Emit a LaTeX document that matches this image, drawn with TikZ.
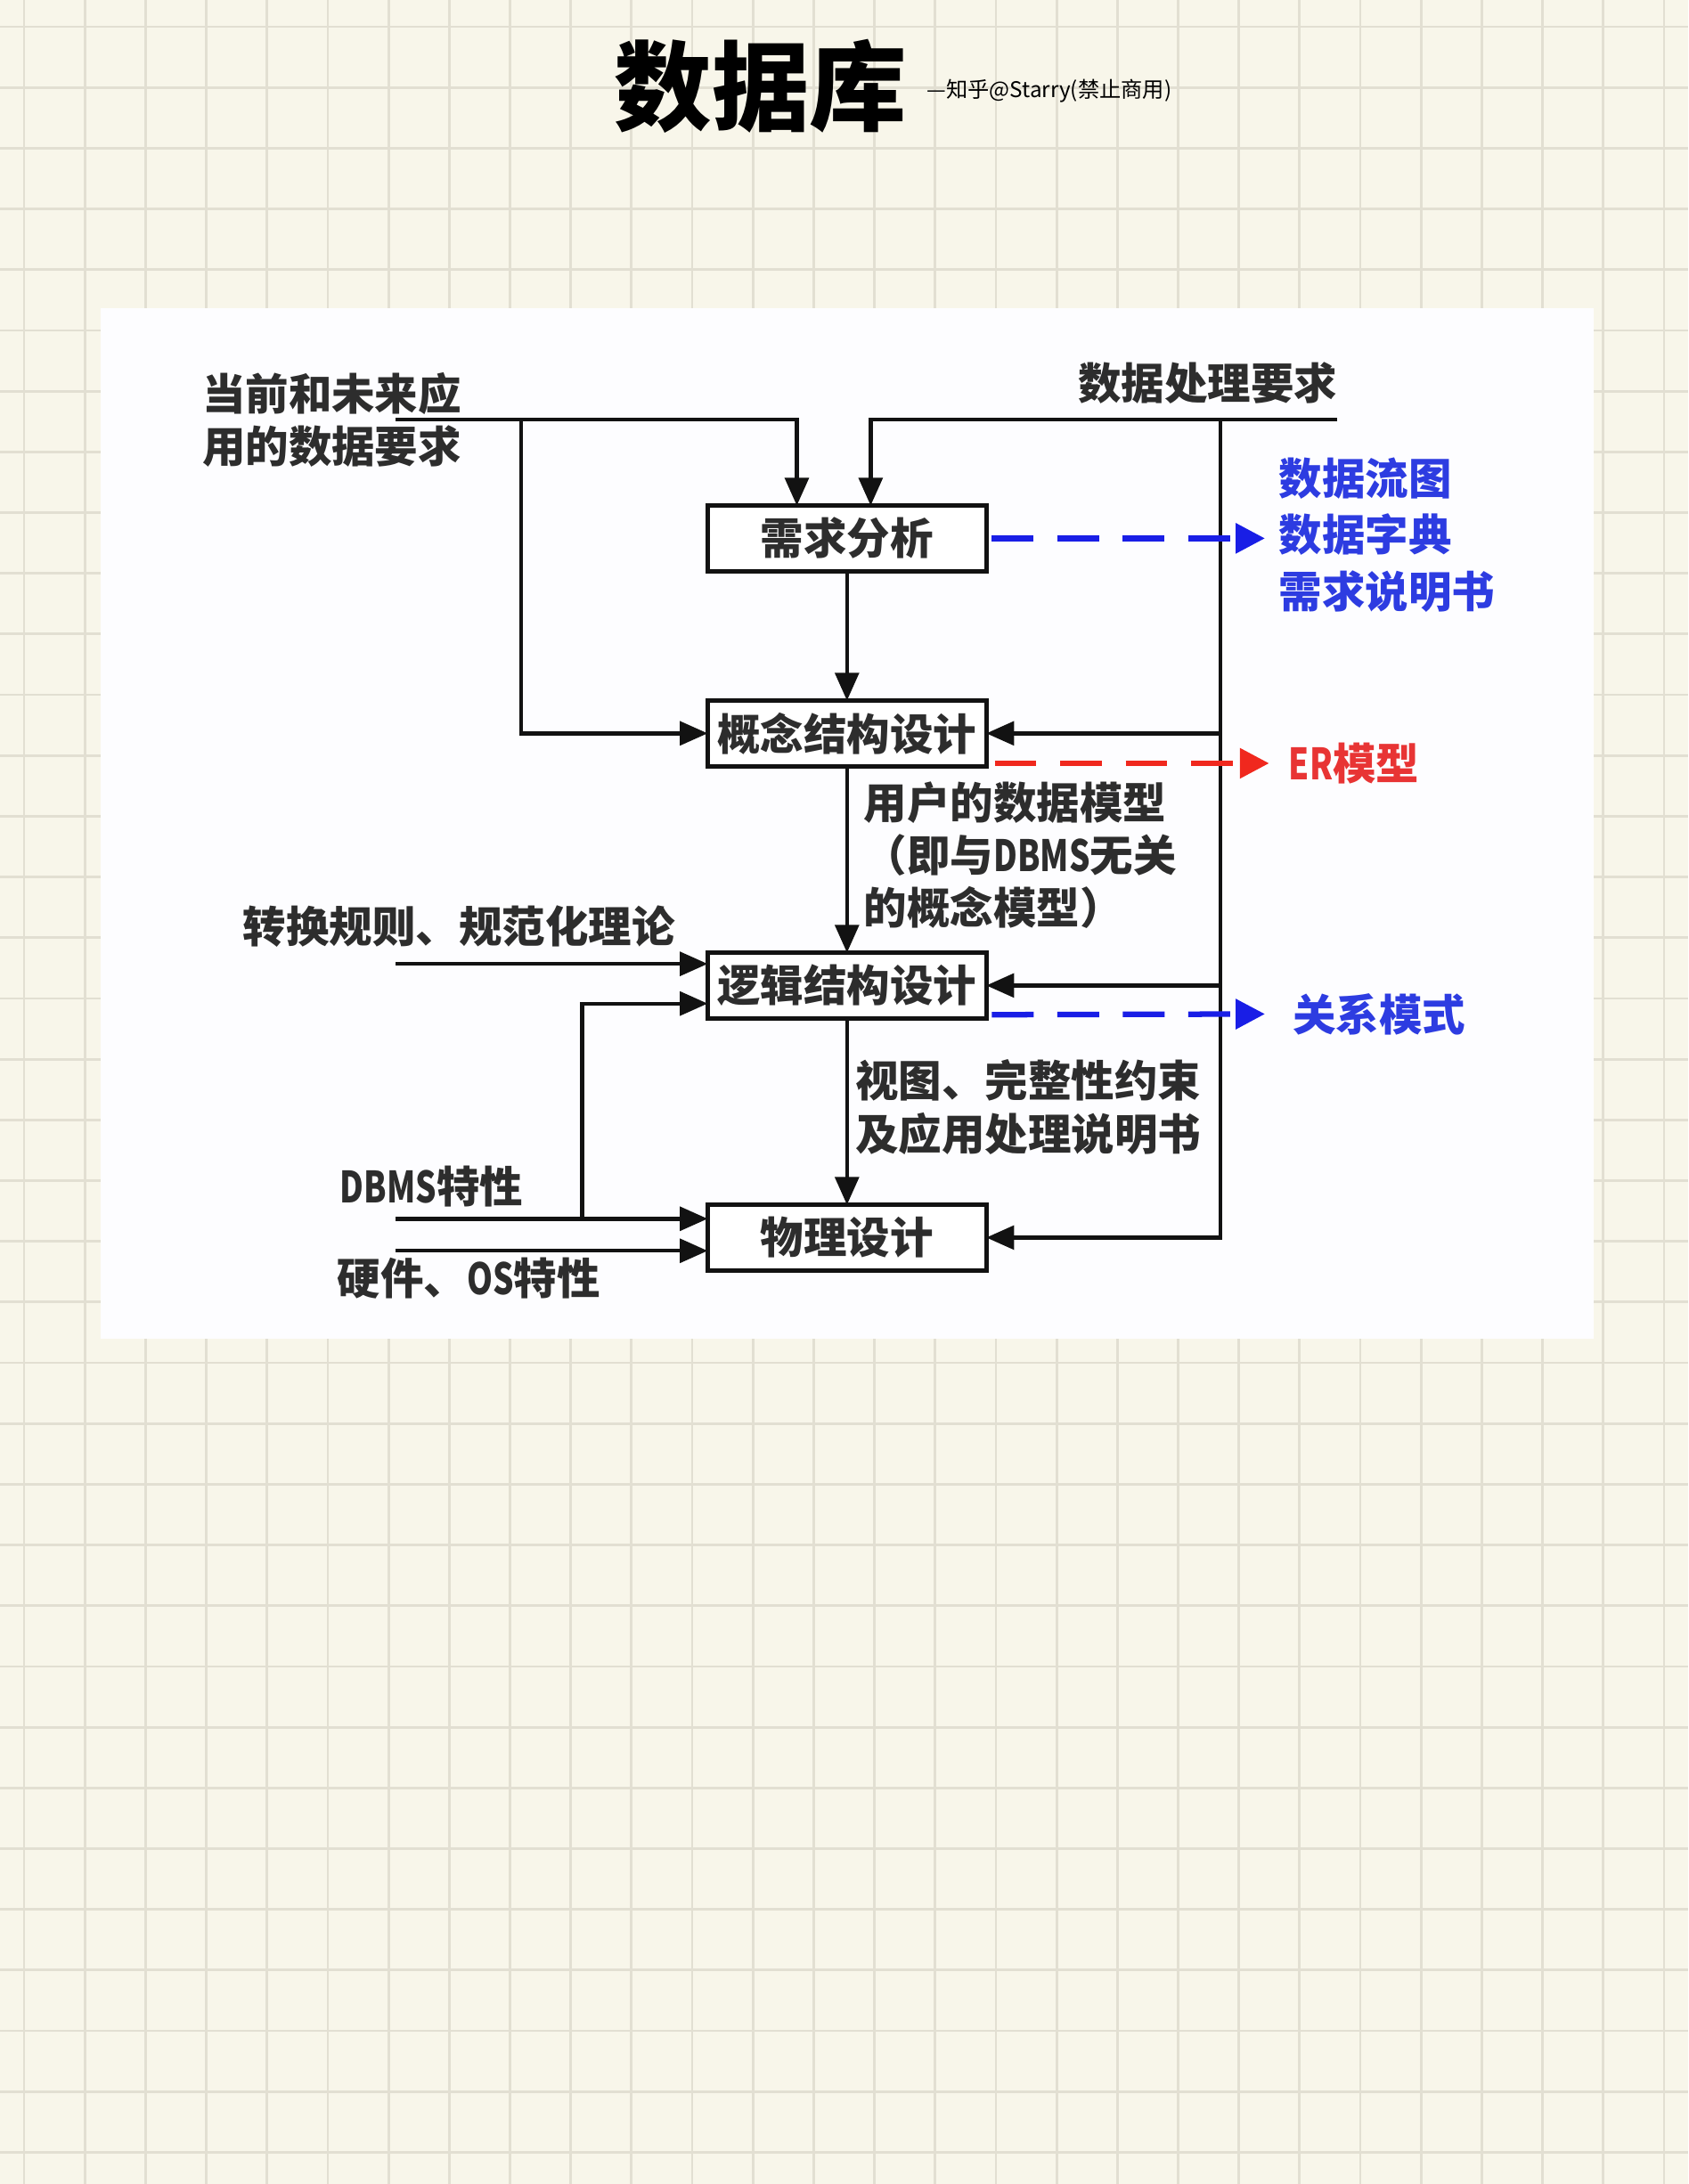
\documentclass[tikz,border=0pt]{standalone}
\usepackage{fontspec}
\usepackage{graphicx}
\usepackage{tikz}
\usetikzlibrary{arrows.meta, positioning, calc}
\newfontfamily\cjk{Noto Sans CJK SC}
\definecolor{paperCream}{RGB}{248,246,234}
\definecolor{gridGray}{RGB}{226,223,210}
\definecolor{panelWhite}{RGB}{253,253,255}
\definecolor{inkBlack}{RGB}{18,18,18}
\definecolor{textInk}{RGB}{45,45,45}
\definecolor{dashBlue}{RGB}{25,30,230}
\definecolor{labelBlue}{RGB}{45,60,225}
\definecolor{dashRed}{RGB}{240,40,30}
\definecolor{labelRed}{RGB}{232,52,52}
\newcommand{\stagefont}{\cjk\bfseries\fontsize{31pt}{38pt}\selectfont}
\newcommand{\docsfont}{\cjk\bfseries\fontsize{31pt}{40.5pt}\selectfont}
\newcommand{\titlefont}{\cjk\bfseries\fontsize{70pt}{72pt}\selectfont}
\newcommand{\signfont}{\cjk\fontsize{15.5pt}{17pt}\selectfont}
\newcommand{\narrowlatin}[1]{\scalebox{0.76}[1]{#1}}
\tikzset{
    stagebox/.style={
        rectangle,
        draw=inkBlack,
        line width=3.2pt,
        fill=white,
        minimum width=200pt,
        minimum height=47pt,
        inner sep=0pt,
        outer sep=0pt,
        text=textInk,
        font=\stagefont
    },
    plainlabel/.style={inner sep=0pt, align=left, text=textInk, font=\stagefont},
    bluelabel/.style={plainlabel, text=labelBlue},
    redlabel/.style={plainlabel, text=labelRed},
    flowline/.style={line width=2.8pt, draw=inkBlack},
    flowarrow/.style={flowline, -{Triangle[length=20pt, width=17pt]}},
    blueflow/.style={-{Triangle[length=21pt, width=21pt]}, line width=4pt, draw=dashBlue, dash pattern=on 30pt off 17pt},
    redflow/.style={blueflow, draw=dashRed},
    gridline/.style={draw=gridGray, line width=1.8pt}
}

\begin{document}
\begin{tikzpicture}[x=1pt, y=-1pt]
    \useasboundingbox (0,0) rectangle (1212,1568);
    % squared paper
    \fill[paperCream] (0,0) rectangle (1212,1568);
    \foreach \gx in {0,...,27}
        \draw[gridline] ({17.3+43.6*\gx},0) -- ({17.3+43.6*\gx},1568);
    \foreach \gy in {0,...,35}
        \draw[gridline] (0,{19.2+43.6*\gy}) -- (1212,{19.2+43.6*\gy});
    \fill[panelWhite] (72,221) rectangle (1144,961);

    % heading
    \node[font=\titlefont, text=black] (dbtitle) at (546,62) {数据库};
    \node[font=\signfont, text=black, anchor=west] (signature) at (662,65) {—知乎@Starry(禁止商用)};

    % design stages
    \node[stagebox] (req) at (608,386.5) {需求分析};
    \node[stagebox, below=93pt of req] (concept) {概念结构设计};
    \node[stagebox, below=134pt of concept] (logic) {逻辑结构设计};
    \node[stagebox, below=134pt of logic] (phys) {物理设计};

    % inputs and outputs
    \node[plainlabel, anchor=west] (curreq) at (145,301.5) {当前和未来应\\用的数据要求};
    \node[plainlabel] (procreq) at (867,275) {数据处理要求};
    \node[bluelabel, anchor=west, font=\docsfont] (docs) at (918,384) {数据流图\\数据字典\\需求说明书};
    \node[redlabel, anchor=west] (ermodel) at (925,548) {\narrowlatin{ER}模型};
    \node[bluelabel, anchor=west] (relschema) at (928,728) {关系模式};
    \node[plainlabel, anchor=west] (usermodel) at (620,614) {用户的数据模型\\（即与\narrowlatin{DBMS}无关\\的概念模型）};
    \node[plainlabel] (convrule) at (329.5,665) {转换规则、规范化理论};
    \node[plainlabel, anchor=west] (views) at (614,795) {视图、完整性约束\\及应用处理说明书};
    \node[plainlabel, anchor=west] (dbmsfeat) at (244,852) {\narrowlatin{DBMS}特性};
    \node[plainlabel, anchor=west] (hwfeat) at (242,918) {硬件、\narrowlatin{OS}特性};

    \coordinate (curstart) at (284,301);
    \coordinate (curbranch) at (374,301);
    \coordinate (procend) at (960,301);
    \coordinate (procrail) at (876,301);
    \coordinate (convstart) at (284,692);
    \coordinate (dbmsstart) at (284,875);
    \coordinate (dbmsbranch) at (418,875);
    \coordinate (hwstart) at (284,898);

    % main flow
    \draw[flowarrow] (req) -- (concept);
    \draw[flowarrow] (concept) -- (logic);
    \draw[flowarrow] (logic) -- (phys);

    \draw[flowarrow] (curstart) -| ([xshift=-36pt]req.north);
    \draw[flowarrow] (curbranch) |- (concept.west);
    \draw[flowarrow] (procend) -| ([xshift=17pt]req.north);
    \draw[flowarrow] (procrail) |- (phys.east);
    \draw[flowarrow] (procrail |- concept.east) -- (concept.east);
    \draw[flowarrow] (procrail |- logic.east) -- (logic.east);

    \draw[flowarrow] (convstart) -- (convstart -| logic.west);
    \draw[flowarrow] (dbmsbranch) |- ([yshift=-13pt]logic.west);
    \draw[flowarrow] (dbmsstart) -- (dbmsstart -| phys.west);
    \draw[flowarrow] (hwstart) -- (hwstart -| phys.west);

    % results
    \draw[blueflow] ([xshift=4pt]req.east) -- ($(req.east -| docs.west)+(-10,0)$);
    \draw[redflow] ([shift={(6pt,-21.5pt)}]concept.east) -- ($(ermodel.west)+(-14,0)$);
    \draw[blueflow] ([shift={(4pt,-21pt)}]logic.east) -- ($(relschema.west)+(-20,0)$);
\end{tikzpicture}
\end{document}
